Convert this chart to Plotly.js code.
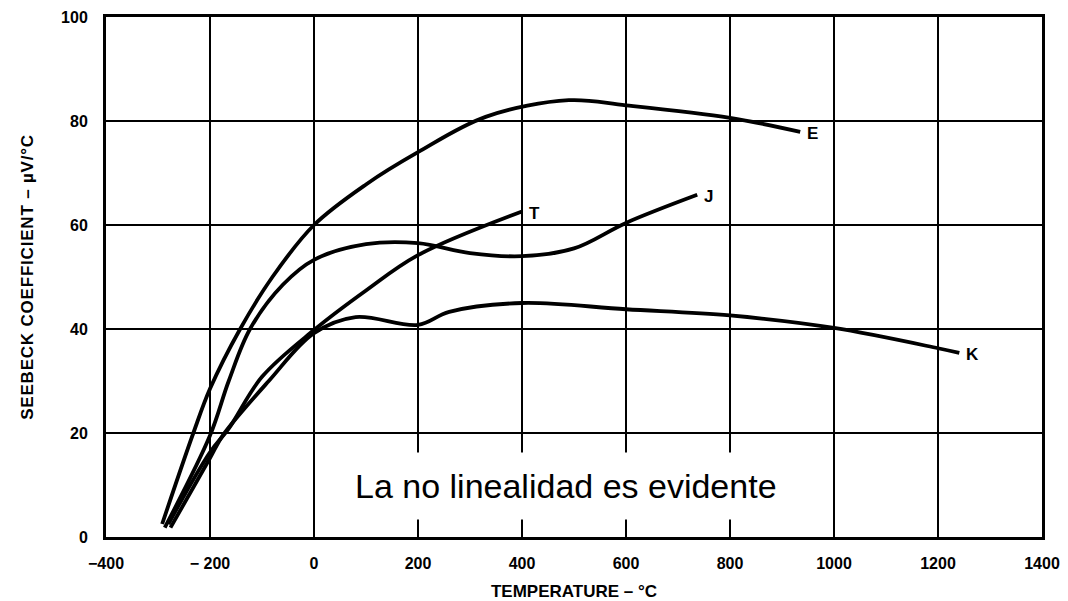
<!DOCTYPE html>
<html>
<head>
<meta charset="utf-8">
<script src="https://cdn.plot.ly/plotly-3.0.1.min.js"></script>
<style>
html,body{margin:0;padding:0;background:#fff;}
#chart{width:1068px;height:601px;}
#chart .ytitle{letter-spacing:0.8px;}
</style>
</head>
<body>
<div id="chart"></div>
<script>
// Type E
const eTemp = [-292, -232, -200, -142, -80, 0, 100, 200, 330, 490, 600, 800, 935];
const eVal  = [2.5, 20, 28.5, 40, 50, 60, 67.8, 74, 80.8, 84.0, 83.0, 80.6, 77.9];
// Type J
const jTemp = [-287, -200, -164, -123, -60, 0, 100, 200, 300, 400, 500, 600, 737];
const jVal  = [1.8, 19.5, 30, 40, 48.5, 53.3, 56.3, 56.5, 54.6, 54.0, 55.5, 60.4, 65.8];
// Type T
const tTemp = [-280, -200, -163, -100, 0, 100, 200, 400];
const tVal  = [2.5, 16.3, 21, 30.8, 39.8, 47.4, 54.2, 62.6];
// Type K
const kTemp = [-276, -200, -175, -87, 0, 80, 200, 260, 400, 600, 800, 1000, 1200, 1241];
const kVal  = [1.8, 15.2, 19.6, 30, 39.2, 42.3, 40.8, 43.3, 45, 43.8, 42.6, 40.2, 36.3, 35.4];

const labels = ['E', 'J', 'T', 'K'];
const xTicks = [-400, -200, 0, 200, 400, 600, 800, 1000, 1200, 1400];
const xTickText = ['\u2212400', '\u2212 200', '0', '200', '400', '600', '800', '1000', '1200', '1400'];
const yTicks = [0, 20, 40, 60, 80, 100];
const yTickText = ['0', '20', '40', '60', '80', '100'];

const series = [[eTemp, eVal], [jTemp, jVal], [tTemp, tVal], [kTemp, kVal]];
const traces = series.map((s, i) => ({
  x: s[0], y: s[1], type: 'scatter', mode: 'lines', name: labels[i],
  line: {color: '#000', width: 3.8, shape: 'spline', smoothing: 1},
  hoverinfo: 'skip'
}));

const fam = 'Liberation Sans, Arial, sans-serif';
const annotations = series.map((s, i) => ({
  x: s[0][s[0].length - 1], y: s[1][s[1].length - 1], xref: 'x', yref: 'y',
  text: '<b>' + labels[i] + '</b>', showarrow: false, xanchor: 'left', yanchor: 'middle',
  xshift: 5, yshift: -2,
  font: {family: fam, size: 17, color: '#000'}
}));
annotations.push({
  x: 485, y: 9.8, xref: 'x', yref: 'y', text: 'La no linealidad es evidente',
  showarrow: false, xanchor: 'center', yanchor: 'middle',
  bgcolor: '#fff', borderpad: 14,
  font: {family: fam, size: 34, color: '#000'}
});

const axisFont = {family: fam, size: 16, color: '#000'};

const layout = {
  width: 1068, height: 601,
  margin: {l: 106, r: 26, t: 17, b: 64},
  paper_bgcolor: '#fff', plot_bgcolor: '#fff',
  showlegend: false,
  xaxis: {
    range: [-400, 1400], tickvals: xTicks, ticktext: xTickText.map(t => '<b>' + t + '</b>'),
    showgrid: true, gridcolor: '#000', gridwidth: 1.6, zeroline: false,
    showline: true, mirror: true, linecolor: '#000', linewidth: 3,
    ticks: '', ticklen: 0, tickfont: axisFont, ticklabelstandoff: 10,
    title: {text: '<b>TEMPERATURE \u2013 \u00B0C</b>', font: {family: fam, size: 17, color: '#000'}, standoff: 16}
  },
  yaxis: {
    range: [0, 100], tickvals: yTicks, ticktext: yTickText.map(t => '<b>' + t + '</b>'),
    showgrid: true, gridcolor: '#000', gridwidth: 1.6, zeroline: false,
    showline: true, mirror: true, linecolor: '#000', linewidth: 3,
    ticks: '', ticklen: 0, tickfont: axisFont, ticklabelstandoff: 12,
    title: {text: '<b>SEEBECK COEFFICIENT \u2013 \u00B5V/\u00B0C</b>', font: {family: fam, size: 17, color: '#000'}, standoff: 24}
  },
  annotations: annotations
};

Plotly.newPlot('chart', traces, layout, {displayModeBar: false, staticPlot: true});
</script>
</body>
</html>
